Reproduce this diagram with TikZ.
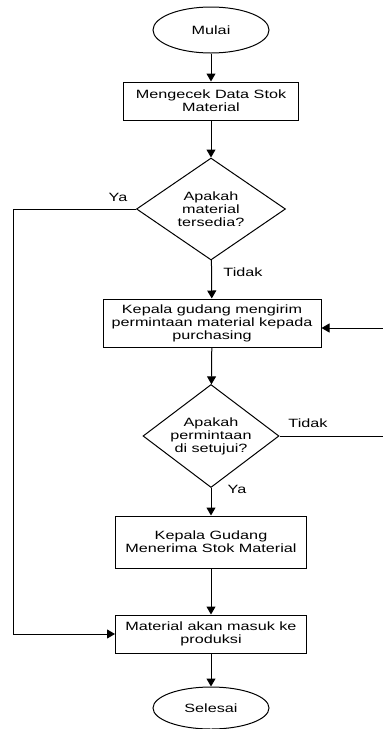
\documentclass[tikz,border=0pt]{standalone}
\usepackage{fontspec}
\setmainfont[FakeStretch=1.35]{Liberation Sans}
\usepackage{tikz}
\usetikzlibrary{arrows.meta}
\usetikzlibrary{shapes.geometric}
\tikzset{proses/.style={draw,shape=rectangle,align=center,inner sep=2pt}}
\tikzset{keputusan/.style={draw,shape=diamond,aspect=1.4,align=center,inner sep=0pt}}
\tikzset{terminal/.style={draw,shape=ellipse,align=center,inner sep=0pt}}
\tikzset{panah/.style={-{Triangle[length=8pt,width=9pt]}}}
\tikzset{teks/.style={font=\fontsize{12}{13}\selectfont}}

\begin{document}
\begin{tikzpicture}[x=1pt, y=-1pt, line width=1pt, every node/.style={teks}]
    \useasboundingbox (0,0) rectangle (383,729);
    \clip (0,0) rectangle (383,729);

    \node [terminal, minimum width=116pt, minimum height=46pt] (mulai) at (211,30) {Mulai};
    \node [proses, minimum width=175pt, minimum height=38pt] (cek) at (211,101) {Mengecek Data Stok\\Material};
    \node [keputusan, minimum width=149pt, minimum height=102pt] (tersedia) at (211,209) {Apakah\\material\\tersedia?};
    \node [proses, minimum width=218pt, minimum height=48pt] (kirim) at (212,323) {Kepala gudang mengirim\\permintaan material kepada\\purchasing};
    \node [keputusan, minimum width=136pt, minimum height=103pt] (setuju) at (211,436) {Apakah\\permintaan\\di setujui?};
    \node [proses, minimum width=191pt, minimum height=52pt] (terima) at (211,542) {Kepala Gudang\\Menerima Stok Material};
    \node [proses, minimum width=191pt, minimum height=38pt] (masuk) at (211,634) {Material akan masuk ke\\produksi};
    \node [terminal, minimum width=116pt, minimum height=42pt] (selesai) at (211,708) {Selesai};

    \coordinate (kiri) at (13,0);
    \coordinate (kanan) at (395,0);

    \draw [panah] (mulai) to (cek);
    \draw [panah] (cek) to (tersedia);
    \draw [panah] (tersedia) to (kirim);
    \draw [panah] (kirim) to (setuju);
    \draw [panah] (setuju) to (terima);
    \draw [panah] (terima) to (masuk);
    \draw [panah] (masuk) to (selesai);

    \draw [panah] (tersedia.west) to (kiri |- tersedia.west) |- (masuk.west);
    \draw [panah] (setuju.east) to (kanan |- setuju.east) |- ([yshift=-5pt]kirim.east);

    \node (ya1) at (118,197) {Ya};
    \node (tidak1) at (243,272) {Tidak};
    \node (tidak2) at (308,423) {Tidak};
    \node (ya2) at (237,489) {Ya};

\end{tikzpicture}
\end{document}
